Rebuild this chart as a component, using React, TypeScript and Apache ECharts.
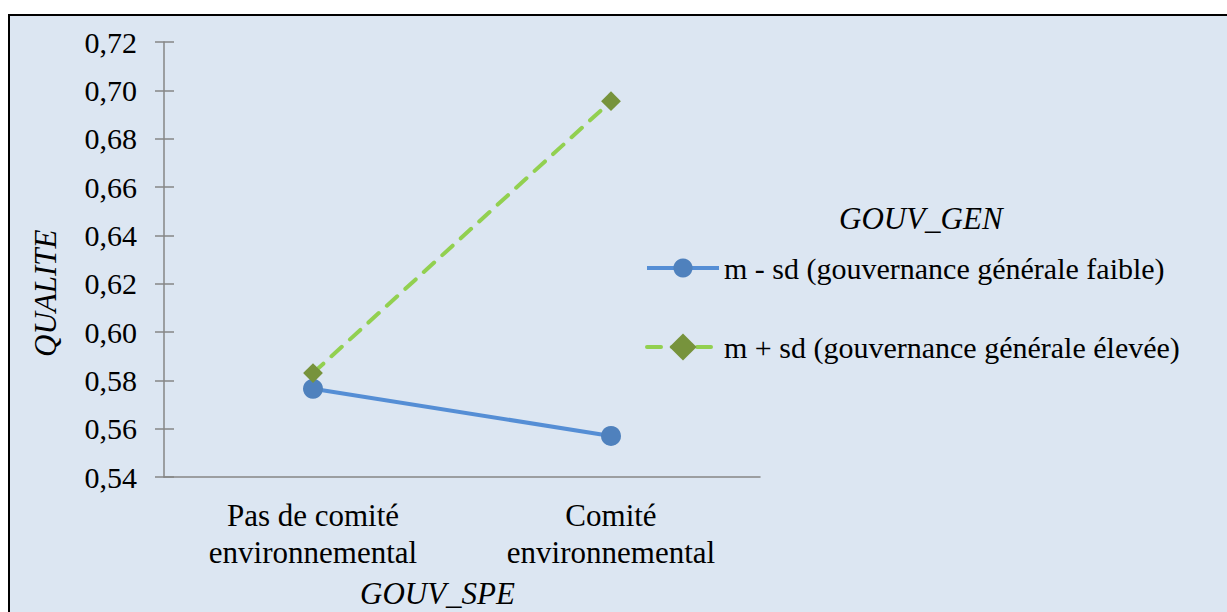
import React, { useEffect, useRef } from "react";
import * as echarts from "echarts";

const categories = ["Pas de comité\nenvironnemental", "Comité\nenvironnemental"];
const seriesNames = [
  "m - sd (gouvernance générale faible)",
  "m + sd (gouvernance générale élevée)",
];
const lowValues = [0.5765, 0.557];
const highValues = [0.583, 0.6955];
const yMin = 0.54;
const yMax = 0.72;
const yStep = 0.02;
const yTitle = "QUALITE";
const xTitle = "GOUV_SPE";
const legendTitle = "GOUV_GEN";

const FONT = "Liberation Serif";

export default function App() {
  const ref = useRef<HTMLDivElement>(null);
  useEffect(() => {
    document.body.style.margin = "0";
    if (!ref.current) return;
    const chart = echarts.init(ref.current, null, { renderer: "svg" });
    const axisColor = "#868686";
    const txt = (text: string, x: number, y: number, size: number, rot = 0) => ({
      type: "text",
      x,
      y,
      rotation: rot,
      style: {
        text,
        fontFamily: FONT,
        fontSize: size,
        fontStyle: "italic",
        fill: "#000",
      },
    });
    chart.setOption({
      animation: false,
      backgroundColor: "#ffffff",
      graphic: [
        { type: "rect", z: -10, shape: { x: 9, y: 15, width: 1218, height: 597 }, style: { fill: "#dce6f2" } },
        { type: "line", shape: { x1: 8, y1: 15, x2: 1227, y2: 15 }, style: { stroke: "#000", lineWidth: 2 } },
        { type: "line", shape: { x1: 9, y1: 14, x2: 9, y2: 612 }, style: { stroke: "#000", lineWidth: 2 } },
        txt(yTitle, 30, 357, 31, Math.PI / 2),
        txt(xTitle, 360, 578, 31),
        txt(legendTitle, 839, 203, 31),
      ],
      grid: { left: 164, right: 467, top: 42, bottom: 135 },
      legend: {
        orient: "vertical",
        left: 640,
        top: 248,
        itemWidth: 72,
        itemHeight: 24,
        itemGap: 49,
        lineStyle: { width: 4 },
        formatter: (name: string) => name,
        textStyle: { fontFamily: FONT, fontSize: 30, color: "#000" },
        data: seriesNames,
      },
      xAxis: {
        type: "category",
        data: categories,
        boundaryGap: true,
        axisLine: { lineStyle: { color: axisColor, width: 1.5 } },
        axisTick: { length: 10, lineStyle: { color: axisColor, width: 1.5 } },
        axisLabel: {
          fontFamily: FONT,
          fontSize: 31,
          color: "#000",
          lineHeight: 37,
          margin: 20,
          formatter: (v: string) => v,
        },
      },
      yAxis: [
        {
          type: "value",
          min: yMin,
          max: yMax,
          interval: yStep,
          splitLine: { show: false },
          axisLine: { show: true, lineStyle: { color: axisColor, width: 1.5 } },
          axisTick: { show: true, length: 9, lineStyle: { color: axisColor, width: 1.5 } },
          axisLabel: {
            fontFamily: FONT,
            fontSize: 30,
            color: "#000",
            margin: 27,
            formatter: (v: number) => v.toFixed(2).replace(".", ","),
          },
        },
        {
          type: "value",
          position: "left",
          min: yMin,
          max: yMax,
          interval: yStep,
          splitLine: { show: false },
          axisLine: { show: false },
          axisTick: { show: true, inside: true, length: 10, lineStyle: { color: axisColor, width: 1.5 } },
          axisLabel: { show: false },
        },
      ],
      series: [
        {
          name: seriesNames[0],
          type: "line",
          data: lowValues,
          symbol: "circle",
          symbolSize: 20,
          lineStyle: { color: "#558ed5", width: 4 },
          itemStyle: { color: "#4f81bd" },
        },
        {
          name: seriesNames[1],
          type: "line",
          data: highValues,
          symbol: "rect",
          symbolSize: 14,
          symbolRotate: 45,
          lineStyle: { color: "#92d050", width: 4, type: [14, 11], cap: "round" },
          itemStyle: { color: "#77933c" },
        },
      ],
    });
    return () => chart.dispose();
  }, []);
  return <div ref={ref} style={{ width: 1227, height: 612, overflow: "hidden" }} />;
}
